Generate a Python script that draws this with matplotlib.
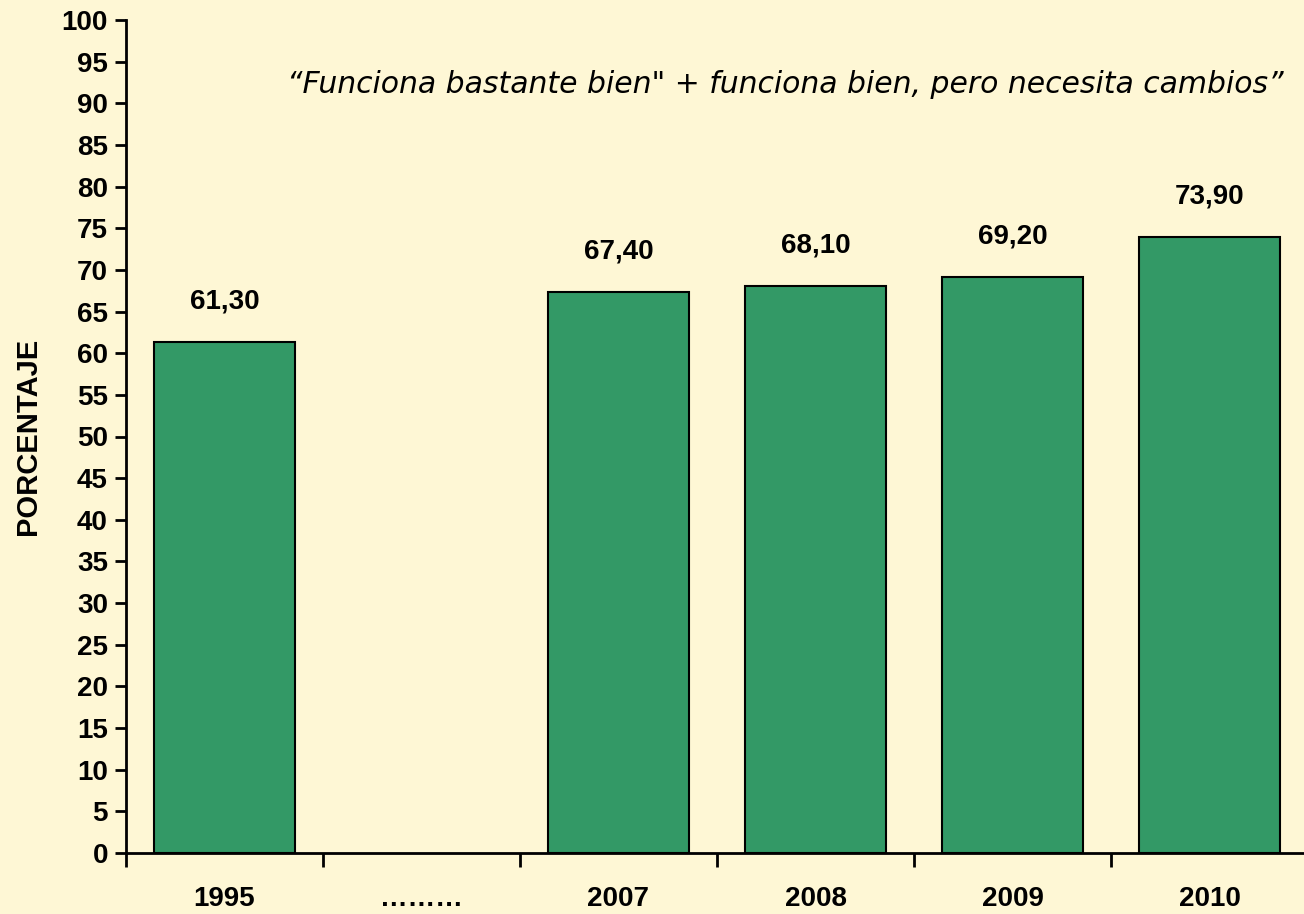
import matplotlib.pyplot as plt
import numpy as np

# datos
categorias = ["1995", "………", "2007", "2008", "2009", "2010"]
valores = [61.3, np.nan, 67.4, 68.1, 69.2, 73.9]
etiquetas = ["61,30", "", "67,40", "68,10", "69,20", "73,90"]
titulo = "\u201cFunciona bastante bien\" + funciona bien, pero necesita cambios\u201d"

fondo = "#FEF7D5"
verde = "#339966"

fig = plt.figure(figsize=(13.04, 9.14), dpi=100, facecolor=fondo)
ax = fig.add_axes([126 / 1304, 1 - 853 / 914, 1182 / 1304, 833 / 914])
ax.set_facecolor(fondo)

x = np.arange(len(categorias))
ax.bar(x, valores, width=0.72, color=verde, edgecolor="black", linewidth=1.5, zorder=3)

# etiquetas de valor
for xi, v, t in zip(x, valores, etiquetas):
    if not np.isnan(v):
        ax.text(xi, v + 3.3, t, ha="center", va="bottom", fontsize=20,
                fontweight="bold", family="Liberation Sans")

ax.set_xlim(-0.5, len(categorias) - 0.5)
ax.set_ylim(0, 100)
ax.set_yticks(np.arange(0, 101, 5))
ax.set_yticklabels([str(v) for v in range(0, 101, 5)], fontsize=20,
                   fontweight="bold", family="Liberation Sans")

# ticks del eje x entre categorias
ax.set_xticks(np.arange(-0.5, len(categorias), 1.0))
ax.set_xticklabels([])
ax.set_xticks(x, minor=True)
ax.set_xticklabels(categorias, minor=True, fontsize=20, fontweight="bold",
                   family="Liberation Sans")
ax.tick_params(axis="x", which="minor", length=0, pad=24)
ax.tick_params(axis="x", which="major", length=10, width=2, direction="out")
ax.tick_params(axis="y", length=8, width=2, direction="out", pad=5)

for s in ["top", "right"]:
    ax.spines[s].set_visible(False)
for s in ["left", "bottom"]:
    ax.spines[s].set_linewidth(2)

ax.set_ylabel("PORCENTAJE", fontsize=21, fontweight="bold", family="Liberation Sans")
ax.yaxis.set_label_coords(-0.071, 0.5)

ax.text(0.5575 * 6 - 0.5, 92.3, titulo, ha="center", va="center",
        fontsize=21.5, style="italic", family="DejaVu Sans")

fig.savefig("out.png", dpi=100, facecolor=fondo)
